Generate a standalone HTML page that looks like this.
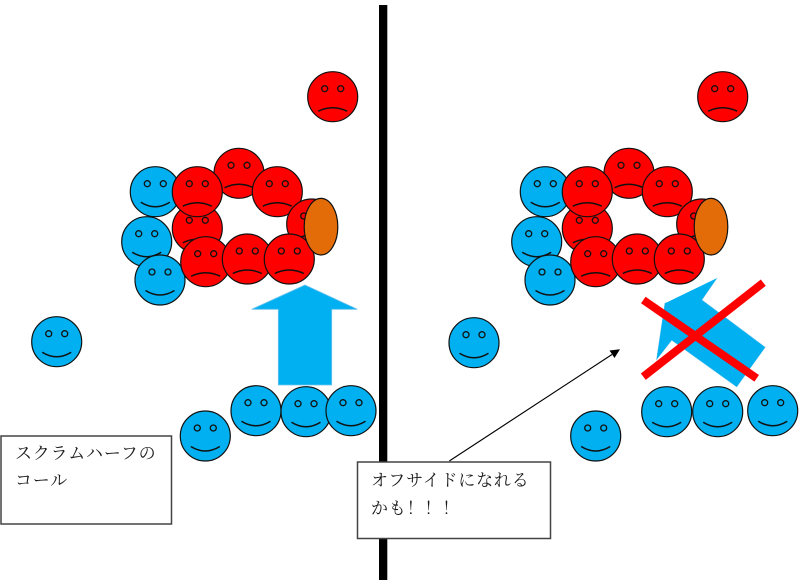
<!DOCTYPE html>
<html><head><meta charset="utf-8"><style>
html,body{margin:0;padding:0;background:#fff;}
svg{display:block;}
.t{font-family:"Liberation Serif","Noto Serif CJK SC","Noto Serif CJK JP",serif;font-size:17px;fill:#1a1a1a;letter-spacing:0.8px;}
</style></head><body>
<svg width="800" height="586" viewBox="0 0 800 586" xmlns="http://www.w3.org/2000/svg">
<defs>
<g id="bf">
<circle cx="0" cy="0" r="25" fill="#00B0F0" stroke="#111" stroke-width="1.2"/>
<circle cx="-8" cy="-8" r="3" fill="#00B0F0" stroke="#111" stroke-width="1.3"/>
<circle cx="8" cy="-8" r="3" fill="#00B0F0" stroke="#111" stroke-width="1.3"/>
<path d="M-14.5,10.5 Q0,19.5 14.5,10.5" fill="none" stroke="#111" stroke-width="1.5"/>
</g>
<g id="rf">
<circle cx="0" cy="0" r="25" fill="#FF0000" stroke="#111" stroke-width="1.2"/>
<circle cx="-8" cy="-8" r="3" fill="#FF0000" stroke="#111" stroke-width="1.3"/>
<circle cx="8" cy="-8" r="3" fill="#FF0000" stroke="#111" stroke-width="1.3"/>
<path d="M-14.5,14.5 Q0,7.5 14.5,14.5" fill="none" stroke="#111" stroke-width="1.5"/>
</g>
<g id="cluster">
<use href="#rf" x="722.7" y="96.7"/>
<use href="#bf" x="545.3" y="191.7"/>
<use href="#bf" x="536.7" y="241.7"/>
<use href="#bf" x="550" y="280"/>
<use href="#rf" x="587.3" y="228.3"/>
<use href="#rf" x="629" y="173.3"/>
<use href="#rf" x="667.3" y="191.7"/>
<use href="#rf" x="587.3" y="191.7"/>
<use href="#rf" x="701.7" y="224"/>
<use href="#rf" x="595.7" y="261.7"/>
<use href="#rf" x="637.3" y="259"/>
<use href="#rf" x="679.3" y="259"/>
<ellipse cx="711" cy="226.7" rx="16.8" ry="28.3" fill="#E36C09" stroke="#111" stroke-width="1.2"/>
</g>
</defs>

<!-- vertical divider -->
<rect x="379" y="5" width="8.3" height="575" fill="#000"/>

<!-- left side -->
<use href="#cluster" x="-390" y="0"/>
<use href="#bf" x="56.7" y="341.7"/>
<polygon points="305,285 357.3,309.3 331.7,309.3 331.7,385 278.3,385 278.3,309.3 251.7,309.3" fill="#00B0F0" stroke="#6fc3ee" stroke-width="0.8"/>
<use href="#bf" x="205.3" y="436"/>
<use href="#bf" x="256" y="410.7"/>
<use href="#bf" x="306" y="411.7"/>
<use href="#bf" x="351" y="410.7"/>

<rect x="1" y="436" width="170.5" height="88" fill="#fff" stroke="#444" stroke-width="1.5"/>
<text class="t" x="15" y="459">スクラムハーフの</text>
<text class="t" x="15" y="486">コール</text>

<!-- right side -->
<use href="#cluster" x="0" y="0"/>
<use href="#bf" x="474" y="342.7"/>
<use href="#bf" x="595.7" y="436"/>
<use href="#bf" x="666.7" y="411.7"/>
<use href="#bf" x="717.7" y="411.7"/>
<use href="#bf" x="772.7" y="410.7"/>

<polygon points="716.7,278.3 701.7,300 665,303.3 656.7,359.3 671.7,340 736.7,386.7 765,347.3 701.7,300" fill="#00B0F0" stroke="#6fc3ee" stroke-width="0.8"/>
<polygon points="716.7,278.3 665,303.3 656.7,359.3 671.7,340 736.7,386.7 765,347.3 701.7,300" fill="#00B0F0"/>

<line x1="643.3" y1="300" x2="756.7" y2="378.3" stroke="#FF0000" stroke-width="8"/>
<line x1="763.3" y1="282.7" x2="643.3" y2="376.7" stroke="#FF0000" stroke-width="8"/>

<!-- callout arrow -->
<line x1="449.3" y1="461" x2="612" y2="354.5" stroke="#000" stroke-width="1.1"/>
<polygon points="620,349.3 609.5,350.5 614.5,358" fill="#000"/>

<rect x="357.5" y="462" width="193" height="76.5" fill="#fff" stroke="#444" stroke-width="1.5"/>
<text class="t" x="371" y="486">オフサイドになれる</text>
<text class="t" x="371" y="514">かも！！！</text>
</svg>
</body></html>
